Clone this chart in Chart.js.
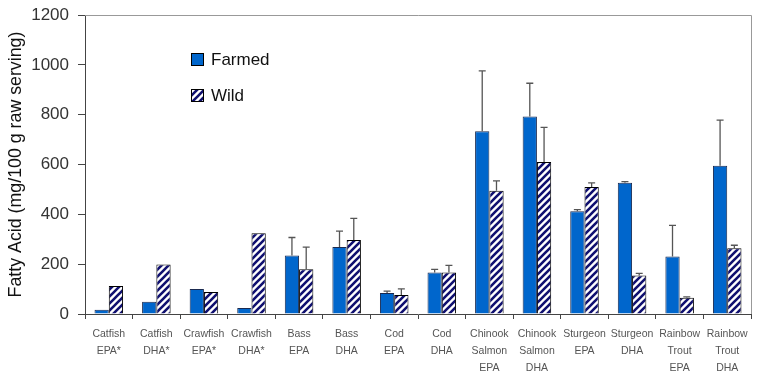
<!DOCTYPE html>
<html>
<head>
<meta charset="utf-8">
<script src="https://cdn.jsdelivr.net/npm/chart.js@4/dist/chart.umd.min.js"></script>
<style>
  html, body { margin: 0; padding: 0; background: #fff; }
  #wrap { width: 764px; height: 385px; position: relative; }
</style>
</head>
<body>
<div id="wrap"><canvas id="chart" width="764" height="385"></canvas></div>
<script>
// categories (multi-line tick labels)
const labels = [
    ['Catfish', 'EPA*'], ['Catfish', 'DHA*'], ['Crawfish', 'EPA*'], ['Crawfish', 'DHA*'],
    ['Bass', 'EPA'], ['Bass', 'DHA'], ['Cod', 'EPA'], ['Cod', 'DHA'],
    ['Chinook', 'Salmon', 'EPA'], ['Chinook', 'Salmon', 'DHA'],
    ['Sturgeon', 'EPA'], ['Sturgeon', 'DHA'],
    ['Rainbow', 'Trout', 'EPA'], ['Rainbow', 'Trout', 'DHA']
];

// series values (mg/100 g raw serving)
const farmed    = [17, 49, 100, 24, 235, 269, 84, 167, 733, 793, 412, 527, 231, 595];
const wild      = [112, 199, 88, 324, 180, 297, 76, 167, 495, 610, 510, 155, 65, 264];
// upper error bars (0 = none)
const farmedErr = [0, 0, 0, 0, 72, 64, 8, 12, 243, 133, 7, 4, 125, 183];
const wildErr   = [0, 0, 0, 0, 88, 87, 25, 28, 39, 139, 16, 8, 4, 12];

const yTicks = [0, 200, 400, 600, 800, 1000, 1200];

const SANS = "'Liberation Sans', Arial, sans-serif";

// diagonal hatch for wild bars
function makeHatch() {
    const c = document.createElement('canvas');
    c.width = 7; c.height = 7;
    const g = c.getContext('2d');
    g.fillStyle = '#fff';
    g.fillRect(0, 0, 7, 7);
    g.strokeStyle = '#101070';
    g.lineWidth = 2.6;
    g.beginPath();
    g.moveTo(-1, 8); g.lineTo(8, -1);
    g.moveTo(-4, 4); g.lineTo(4, -4);
    g.moveTo(3, 11); g.lineTo(11, 3);
    g.stroke();
    return g.createPattern(c, 'repeat');
}
const hatch = makeHatch();

const errorBars = {
    id: 'errorBars',
    afterDatasetsDraw(chart) {
        const ctx = chart.ctx;
        const y = chart.scales.y;
        ctx.save();
        ctx.strokeStyle = '#555';
        ctx.lineWidth = 1.3;
        chart.data.datasets.forEach((ds, i) => {
            const meta = chart.getDatasetMeta(i);
            meta.data.forEach((bar, j) => {
                const e = ds.errors[j];
                if (!e) return;
                const top = y.getPixelForValue(ds.data[j] + e);
                ctx.beginPath();
                ctx.moveTo(bar.x, bar.y);
                ctx.lineTo(bar.x, top);
                ctx.moveTo(bar.x - 3.5, top);
                ctx.lineTo(bar.x + 3.5, top);
                ctx.stroke();
            });
        });
        ctx.restore();
    }
};

const frameAndLegend = {
    id: 'frameAndLegend',
    afterDraw(chart) {
        const ctx = chart.ctx;
        const a = chart.chartArea;
        ctx.save();
        // top and right frame
        ctx.strokeStyle = '#999';
        ctx.lineWidth = 1;
        ctx.beginPath();
        ctx.moveTo(a.left, a.top + 0.5);
        ctx.lineTo(a.right + 0.5, a.top + 0.5);
        ctx.lineTo(a.right + 0.5, a.bottom);
        ctx.stroke();
        // legend
        const items = [
            { text: 'Farmed', fill: '#0066CC', y: a.top + 38 },
            { text: 'Wild', fill: hatch, y: a.top + 74 }
        ];
        ctx.font = '17px ' + SANS;
        ctx.textBaseline = 'middle';
        items.forEach(it => {
            ctx.fillStyle = it.fill;
            ctx.fillRect(a.left + 106, it.y, 13, 13);
            ctx.strokeStyle = '#000';
            ctx.strokeRect(a.left + 106.5, it.y + 0.5, 12, 12);
            ctx.fillStyle = '#111';
            ctx.fillText(it.text, a.left + 126, it.y + 7);
        });
        ctx.restore();
    }
};

new Chart(document.getElementById('chart'), {
    type: 'bar',
    data: {
        labels: labels,
        datasets: [{
            label: 'Farmed',
            data: farmed,
            errors: farmedErr,
            backgroundColor: '#0066CC',
            borderColor: '#1a2a50',
            borderWidth: 1,
            categoryPercentage: 0.6,
            barPercentage: 1.0
        }, {
            label: 'Wild',
            data: wild,
            errors: wildErr,
            backgroundColor: hatch,
            borderColor: '#000',
            borderWidth: 1,
            categoryPercentage: 0.6,
            barPercentage: 1.0
        }]
    },
    options: {
        responsive: false,
        animation: false,
        layout: { padding: { top: 15, right: 13, left: 0, bottom: 0 } },
        plugins: {
            legend: { display: false },
            tooltip: { enabled: false }
        },
        scales: {
            x: {
                grid: { display: true, drawOnChartArea: false, offset: true, tickLength: 5, color: '#444' },
                border: { color: '#444', width: 1 },
                ticks: {
                    color: '#555',
                    font: { family: SANS, size: 10.5, lineHeight: 1.6 },
                    padding: 7,
                    maxRotation: 0,
                    autoSkip: false
                },
                afterFit(scale) {
                    scale.height = 71;
                    scale.paddingLeft = 0;
                    scale.paddingRight = 0;
                }
            },
            y: {
                min: 0,
                max: 1200,
                afterBuildTicks(scale) { scale.ticks = yTicks.map(v => ({ value: v })); },
                grid: { display: true, drawOnChartArea: false, tickLength: 7, color: '#444' },
                border: { color: '#444', width: 1 },
                ticks: {
                    color: '#333',
                    font: { family: SANS, size: 17 },
                    padding: 9,
                    callback: v => String(v)
                },
                title: {
                    display: true,
                    text: 'Fatty Acid (mg/100 g raw serving)',
                    color: '#111',
                    font: { family: SANS, size: 17.8 },
                    padding: { top: 5, bottom: 0 }
                },
                afterFit(scale) {
                    scale.width = 85;
                    scale.paddingTop = 0;
                    scale.paddingBottom = 0;
                }
            }
        }
    },
    plugins: [errorBars, frameAndLegend]
});
</script>
</body>
</html>
